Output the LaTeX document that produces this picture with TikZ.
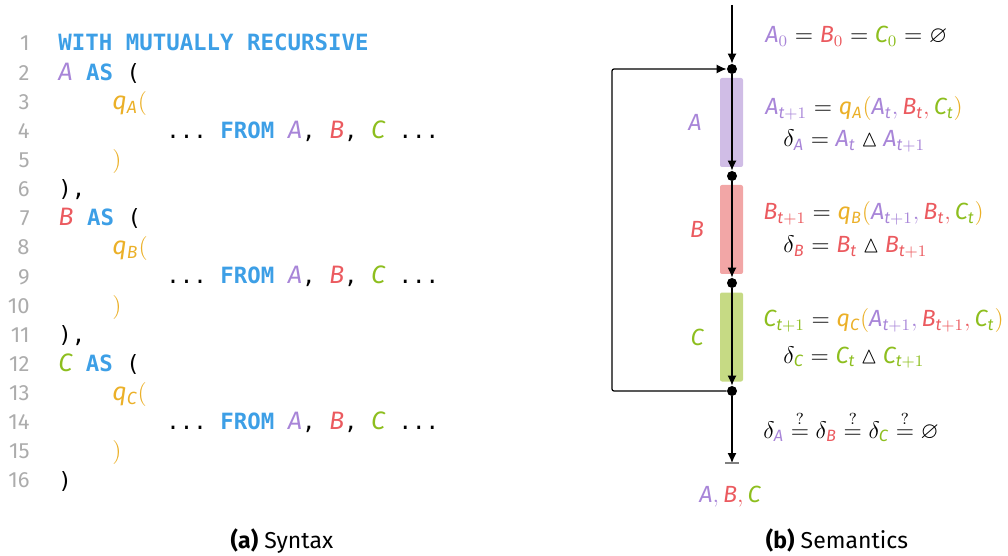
\documentclass[tikz,border=0pt]{standalone}
\usepackage{amsmath,amssymb}
\usepackage{fontspec}
\setmainfont{Fira Sans}
\setmonofont{DejaVu Sans Mono}
\usetikzlibrary{arrows.meta}

\definecolor{cA}{HTML}{A885D8}
\definecolor{cB}{HTML}{EB5A5F}
\definecolor{cC}{HTML}{8DBE1E}
\definecolor{cQ}{HTML}{EBB028}
\definecolor{cK}{HTML}{3D9FE6}
\definecolor{boxA}{HTML}{D0BDE6}
\definecolor{boxB}{HTML}{F2A6A6}
\definecolor{boxC}{HTML}{C6DA84}

\newcommand{\vA}{{\color{cA}\mathit{A}}}
\newcommand{\vB}{{\color{cB}\mathit{B}}}
\newcommand{\vC}{{\color{cC}\mathit{C}}}
\newcommand{\sA}[1]{{\color{cA}\mathit{A}_{#1}}}
\newcommand{\sB}[1]{{\color{cB}\mathit{B}_{#1}}}
\newcommand{\sC}[1]{{\color{cC}\mathit{C}_{#1}}}
\newcommand{\pc}[1]{\mathpunct{\color{#1},}}
\newcommand{\tn}{\mathit{t}}
\newcommand{\qq}[1]{\mathit{q}_{\mathit{#1}}}
\newcommand{\kw}[1]{{\color{cK}\bfseries #1}}
\newcommand{\cv}[1]{{\fontsize{12.6}{13}\selectfont$#1$}}
\newcommand{\sdiff}{\mathbin{\vartriangle}}
\newcommand{\qeq}{\stackrel{?}{=}}

\begin{document}
\begin{tikzpicture}[x=0.5pt, y=-0.5pt, >={Latex[length=5pt,width=4.5pt]},
  lnum/.style={font=\fontsize{11}{13}\selectfont, text=gray!65, anchor=base east, inner sep=0},
  code/.style={font=\ttfamily\fontsize{11.2}{13}\selectfont, anchor=base west, inner sep=0},
  eq/.style={font=\fontsize{11.7}{14}\selectfont, anchor=base west, inner sep=0},
  capt/.style={font=\fontsize{11.5}{14}\selectfont, anchor=base, inner sep=0},
  dot/.style={circle, fill=black, inner sep=0, minimum size=5pt},
  blk/.style={rounded corners=1pt, inner sep=0, minimum width=11.5pt, minimum height=44.5pt},
  flow/.style={->, line width=0.6pt}]
\useasboundingbox (0,0) rectangle (1008,556);

% --- 1. line numbers ---
\foreach \i in {1,...,16}
  \node[lnum] (n\i) at (30, {51+(\i-1)*29.13}) {\i};

% --- 2. code listing ---
\node[code] (l1)  at (58, 51)    {\kw{WITH MUTUALLY RECURSIVE}};
\node[code] (l2)  at (58, 80.1)  {\cv{\vA} \kw{AS} (};
\node[code] (l3)  at (112,109.3) {\cv{\color{cQ}\qq{A}(}};
\node[code] (l4)  at (166,138.4) {... \kw{FROM} \cv{\vA}, \cv{\vB}, \cv{\vC} ...};
\node[code] (l5)  at (112,167.5) {\cv{\color{cQ})}};
\node[code] (l6)  at (58, 196.7) {),};
\node[code] (l7)  at (58, 225.8) {\cv{\vB} \kw{AS} (};
\node[code] (l8)  at (112,254.9) {\cv{\color{cQ}\qq{B}(}};
\node[code] (l9)  at (166,284.0) {... \kw{FROM} \cv{\vA}, \cv{\vB}, \cv{\vC} ...};
\node[code] (l10) at (112,313.2) {\cv{\color{cQ})}};
\node[code] (l11) at (58, 342.3) {),};
\node[code] (l12) at (58, 371.4) {\cv{\vC} \kw{AS} (};
\node[code] (l13) at (112,400.6) {\cv{\color{cQ}\qq{C}(}};
\node[code] (l14) at (166,429.7) {... \kw{FROM} \cv{\vA}, \cv{\vB}, \cv{\vC} ...};
\node[code] (l15) at (112,458.8) {\cv{\color{cQ})}};
\node[code] (l16) at (58, 488)   {)};

% --- 3. blocks A, B, C ---
\node[blk, fill=boxA] (bA) at (731.5,122.5) {};
\node[blk, fill=boxB] (bB) at (731.5,229.5) {};
\node[blk, fill=boxC] (bC) at (731.5,337) {};
\node[eq, anchor=base] (labA) at (695,131) {$\vA$};
\node[eq, anchor=base] (labB) at (697,238) {$\vB$};
\node[eq, anchor=base] (labC) at (697,345) {$\vC$};

% --- 4. junctions and flow ---
\coordinate (top) at (732,5);
\node[dot] (d1) at (732,69) {};
\node[dot] (d2) at (732,176) {};
\node[dot] (d3) at (732,283) {};
\node[dot] (d4) at (732,391) {};
\coordinate (loop) at (612,230);
\coordinate (stop) at (732,463);

\draw[flow] (top) -- (d1);
\draw[flow] (d1) -- (d2);
\draw[flow] (d2) -- (d3);
\draw[flow] (d3) -- (d4);
\draw[flow, rounded corners=1pt] (d4) -| (loop) |- (d1);
\draw[flow] (d4) -- (stop);
\draw[gray, line width=0.8pt] ([xshift=-3.5pt]stop) -- ([xshift=3.5pt]stop);

% --- 5. equations ---
\node[eq] (e0) at (765,43) {$\sA{0} = \sB{0} = \sC{0} = \varnothing$};
\node[eq] (eA) at (765,115) {$\sA{\tn+1} = {\color{cQ}\qq{A}(\sA{\tn}\pc{cA}\sB{\tn}\pc{cB}\sC{\tn})}$};
\node[eq] (dA) at (783,147) {$\delta_{\vA} = \sA{\tn} \sdiff \sA{\tn+1}$};
\node[eq] (eB) at (763,220) {$\sB{\tn+1} = {\color{cQ}\qq{B}(\sA{\tn+1}\pc{cA}\sB{\tn}\pc{cB}\sC{\tn})}$};
\node[eq] (dB) at (783,253) {$\delta_{\vB} = \sB{\tn} \sdiff \sB{\tn+1}$};
\node[eq] (eC) at (763,327) {$\sC{\tn+1} = {\color{cQ}\qq{C}(\sA{\tn+1}\pc{cA}\sB{\tn+1}\pc{cB}\sC{\tn})}$};
\node[eq] (dC) at (783,363) {$\delta_{\vC} = \sC{\tn} \sdiff \sC{\tn+1}$};
\node[eq] (fix) at (763,438) {$\delta_{\vA} \qeq \delta_{\vB} \qeq \delta_{\vC} \qeq \varnothing$};
\node[eq, anchor=base] (out) at (730,502) {$\vA\pc{cA}\vB\pc{cB}\vC$};

% --- 6. captions ---
\node[capt] (capA) at (282,548) {\textbf{(a)} Syntax};
\node[capt] (capB) at (837,548) {\textbf{(b)} Semantics};

\end{tikzpicture}
\end{document}
